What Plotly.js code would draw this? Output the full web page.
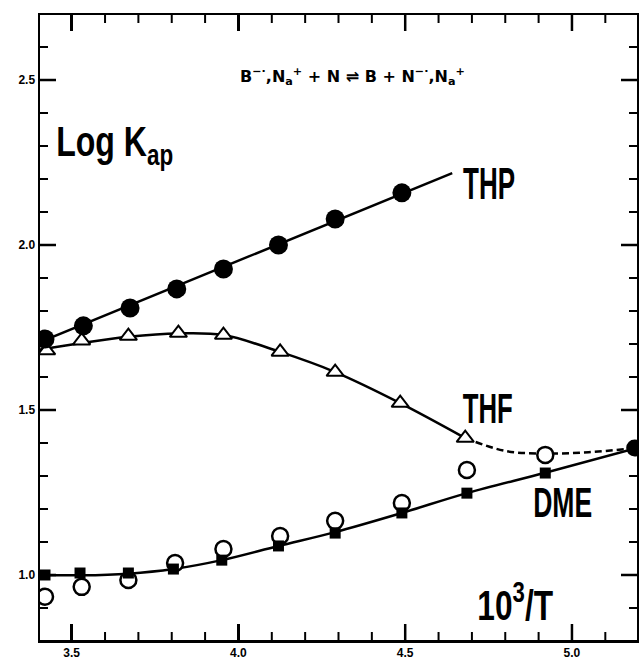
<!DOCTYPE html>
<html>
<head>
<meta charset="utf-8">
<script src="https://cdn.plot.ly/plotly-3.0.1.min.js"></script>
<style>html,body{margin:0;padding:0;background:#fff;}#chart{width:639px;height:659px;}</style>
</head>
<body>
<div id="chart"></div>
<script>
// THP (filled circles)
var thpX = [3.42, 3.535, 3.675, 3.815, 3.955, 4.12, 4.29, 4.49];
var thpY = [1.715, 1.755, 1.809, 1.867, 1.927, 2.0, 2.079, 2.158];
var thpLineX = [3.405, 4.641];
var thpLineY = [1.706, 2.218];

// THF (open triangles)
var thfX = [3.425, 3.53, 3.67, 3.82, 3.955, 4.125, 4.29, 4.485, 4.68];
var thfY = [1.68, 1.71, 1.724, 1.733, 1.727, 1.676, 1.615, 1.521, 1.415];
var thfCurveX = [3.405, 3.53, 3.67, 3.82, 3.955, 4.125, 4.29, 4.485, 4.68];
var thfCurveY = [1.683, 1.703, 1.722, 1.732, 1.727, 1.676, 1.615, 1.521, 1.415];
var thfDashX = [4.68, 4.8, 4.92, 5.05, 5.195];
var thfDashY = [1.415, 1.376, 1.368, 1.372, 1.385];

// DME (filled squares)
var dmeX = [3.42, 3.525, 3.67, 3.805, 3.95, 4.12, 4.29, 4.49, 4.685, 4.92];
var dmeY = [1.0, 1.006, 1.006, 1.018, 1.045, 1.088, 1.127, 1.188, 1.248, 1.309];
var dmeCurveX = [3.405, 3.53, 3.67, 3.805, 3.95, 4.12, 4.29, 4.49, 4.685, 4.92, 5.195];
var dmeCurveY = [1.0, 0.999, 1.004, 1.018, 1.045, 1.088, 1.13, 1.188, 1.248, 1.31, 1.385];

// open circles
var openX = [3.42, 3.53, 3.67, 3.81, 3.955, 4.125, 4.29, 4.49, 4.685, 4.92];
var openY = [0.934, 0.964, 0.985, 1.036, 1.079, 1.118, 1.164, 1.218, 1.318, 1.364];

// common end point
var endX = [5.188];
var endY = [1.385];

// ticks
var xMajorTicks = [3.5, 4.0, 4.5, 5.0];
var xMinorTicks = [3.6, 3.7, 3.8, 3.9, 4.1, 4.2, 4.3, 4.4, 4.6, 4.7, 4.8, 4.9, 5.1];
var yMajorTicks = [1.0, 1.5, 2.0, 2.5];
var yMinorTicks = [0.9, 1.1, 1.2, 1.3, 1.4, 1.6, 1.7, 1.8, 1.9, 2.1, 2.2, 2.3, 2.4, 2.6];

var LW = 2.5;
var traces = [
  {x: thpLineX, y: thpLineY, mode: 'lines', line: {color: '#000', width: LW}},
  {x: thfCurveX, y: thfCurveY, mode: 'lines', line: {color: '#000', width: LW, shape: 'spline', smoothing: 1}},
  {x: thfDashX, y: thfDashY, mode: 'lines', line: {color: '#000', width: LW, shape: 'spline', dash: '7px,4px'}},
  {x: dmeCurveX, y: dmeCurveY, mode: 'lines', line: {color: '#000', width: LW, shape: 'spline', smoothing: 1}},
  {x: thfX, y: thfY, mode: 'markers', marker: {symbol: 'triangle-up', size: 15, color: '#fff', line: {color: '#000', width: 2}}},
  {x: openX, y: openY, mode: 'markers', marker: {symbol: 'circle', size: 16, color: '#fff', line: {color: '#000', width: 2.5}}},
  {x: dmeX, y: dmeY, mode: 'markers', marker: {symbol: 'square', size: 11, color: '#000'}},
  {x: thpX, y: thpY, mode: 'markers', marker: {symbol: 'circle', size: 19, color: '#000'}},
  {x: endX, y: endY, mode: 'markers', marker: {symbol: 'circle', size: 17, color: '#000'}}
];

function axisCommon(tickvals, range) {
  return {
    range: range, tickmode: 'array', tickvals: tickvals, tickformat: '.1f',
    showline: true, linecolor: '#000', linewidth: 2.5, mirror: 'ticks',
    ticks: 'inside', ticklen: 16, tickwidth: 2.5, tickcolor: '#000',
    showgrid: false, zeroline: false,
    tickfont: {family: 'Liberation Sans', size: 12, color: '#000', weight: 'bold'}
  };
}

// tick marks on all four sides, placed through the axis scales
var shapes = [];
function addXTicks(vals, len, w) {
  vals.forEach(function (v) {
    shapes.push({type: 'line', xref: 'x', yref: 'paper', ysizemode: 'pixel', yanchor: 0, x0: v, x1: v, y0: 0, y1: len, line: {color: '#000', width: w}});
    shapes.push({type: 'line', xref: 'x', yref: 'paper', ysizemode: 'pixel', yanchor: 1, x0: v, x1: v, y0: 0, y1: -len, line: {color: '#000', width: w}});
  });
}
function addYTicks(vals, len, w) {
  vals.forEach(function (v) {
    shapes.push({type: 'line', yref: 'y', xref: 'paper', xsizemode: 'pixel', xanchor: 0, y0: v, y1: v, x0: 0, x1: len, line: {color: '#000', width: w}});
    shapes.push({type: 'line', yref: 'y', xref: 'paper', xsizemode: 'pixel', xanchor: 1, y0: v, y1: v, x0: 0, x1: -len, line: {color: '#000', width: w}});
  });
}
addXTicks(xMajorTicks, 16, 2.5);
addXTicks(xMinorTicks, 8, 2);
addYTicks(yMajorTicks, 16, 2.5);
addYTicks(yMinorTicks, 8, 2);

var annSpecs = [
  // text, center px x, center px y, font size, target width px
  {text: 'Log K<sub>ap</sub>', cx: 114, cy: 145, size: 42, w: 117},
  {text: 'THP', cx: 489, cy: 184, size: 44, w: 52},
  {text: 'THF', cx: 488, cy: 408, size: 42, w: 50},
  {text: 'DME', cx: 562, cy: 502, size: 42, w: 59},
  {text: '10<sup>3</sup>/T', cx: 515, cy: 602, size: 42, w: 76}
];

var annotations = [
  {xref: 'paper', yref: 'paper', x: (352 - 40) / 597, y: (640 - 77) / 625, xanchor: 'center', yanchor: 'middle', showarrow: false,
   text: 'B<sup>−·</sup>,N<sub>a</sub><sup>+</sup> + N ⇌ B + N<sup>−·</sup>,N<sub>a</sub><sup>+</sup>',
   font: {family: 'DejaVu Sans', size: 16, color: '#000', weight: 'bold'}}
];
annSpecs.forEach(function (a) {
  annotations.push({xref: 'paper', yref: 'paper', x: (a.cx - 40) / 597, y: (640 - a.cy) / 625,
    xanchor: 'center', yanchor: 'middle', showarrow: false, text: a.text,
    font: {family: 'Liberation Sans', size: a.size, color: '#000', weight: 'bold'}});
});

var layout = {
  width: 639, height: 659,
  margin: {l: 40, r: 2, t: 15, b: 19},
  showlegend: false,
  xaxis: axisCommon(xMajorTicks, [3.405, 5.195]),
  yaxis: axisCommon(yMajorTicks, [0.803, 2.697]),
  shapes: shapes,
  annotations: annotations
};

Plotly.newPlot('chart', traces, layout, {displayModeBar: false, staticPlot: true}).then(function (gd) {
  // condense the hand-lettered labels horizontally
  var texts = gd.querySelectorAll('.annotation-text');
  for (var i = 1; i < texts.length; i++) {
    var t = texts[i];
    var spec = annSpecs[i - 1];
    if (!spec) continue;
    var bb = t.getBBox();
    if (!bb.width) continue;
    var s = Math.min(1, spec.w / bb.width);
    var c = bb.x + bb.width / 2;
    t.setAttribute('transform', 'translate(' + c + ',0) scale(' + s + ',1) translate(' + (-c) + ',0)');
  }
});
</script>
</body>
</html>
